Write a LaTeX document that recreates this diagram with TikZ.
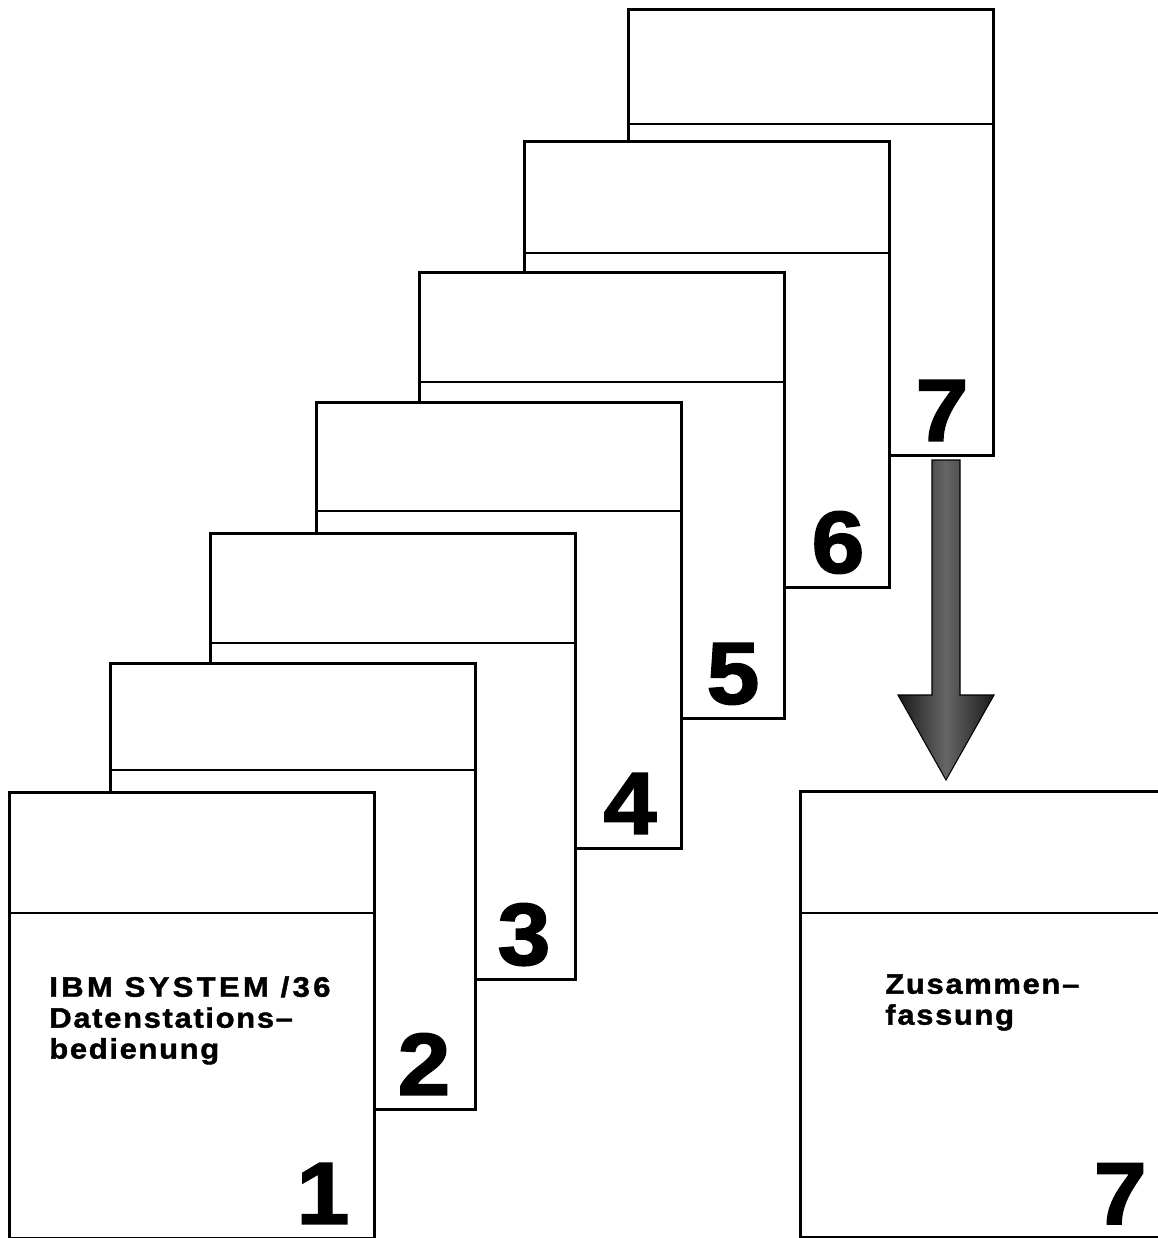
\documentclass[tikz,border=0pt]{standalone}
\usepackage{fontspec}
\setmainfont{Liberation Sans}
\newfontfamily\cardfont{Liberation Sans}[UprightFont={* Bold},
  FakeStretch=1.1,LetterSpace=6,FakeBold=1.5]
\newfontfamily\numfont{Liberation Sans}[UprightFont={* Bold},
  FakeStretch=1.08,FakeBold=2]
\usetikzlibrary{calc}

\tikzset{
  card/.style={draw=black,fill=white,line width=1.6pt,inner sep=0pt,
    anchor=north west,minimum width=7.3cm,minimum height=8.92cm},
  divider/.style={line width=1.6pt},
  cardno/.style={anchor=base east,inner sep=0pt,
    font=\numfont\fontsize{50}{50}\selectfont},
  cardtext/.style={anchor=north west,inner sep=0pt,align=left,
    font=\cardfont\fontsize{16}{17.6}\selectfont},
  fatarrow/.style={draw=black,line width=0.6pt,left color=black!90,
    right color=black!90,middle color=black!60}
}

\begin{document}
\begin{tikzpicture}[x=0.02cm,y=-0.02cm]
\useasboundingbox (0,0) rectangle (1158,1238);

% stack of cards, back to front
\foreach \n/\x/\y/\d in {7/627/8/116,6/523/140/113,5/418/271/111,
    4/315/401/110,3/209/532/111,2/109/662/108,1/8/791/122}{
  \node[card] (c\n) at (\x,\y) {};
  \draw[divider] ($(c\n.north west)+(0,\d)$) -- ($(c\n.north east)+(0,\d)$);
  \node[cardno] (n\n) at ($(c\n.south east)+(-26,-16)$) {\n};
}

\node[cardtext] (t1) at (49,976)
    {{\addfontfeature{LetterSpace=12}IBM SYSTEM /36}\\
     Datenstations\textendash\\bedienung};

% summary card
\node[card] (sum) at (799,790) {};
\draw[divider] ($(sum.north west)+(0,123)$) -- ($(sum.north east)+(0,123)$);
\node[cardtext] (t8) at (885,974) {Zusammen\textendash\\fassung};
\node[cardno] (n8) at (1147,1224) {7};

% arrow from card 7 to the summary
\coordinate (top) at (946,460);
\coordinate (tip) at (946,780);
\path[fatarrow] ($(top)+(-14,0)$) -- ($(top)+(14,0)$) -- ($(tip)+(14,-85)$)
    -- ($(tip)+(48,-85)$) -- (tip) -- ($(tip)+(-48,-85)$)
    -- ($(tip)+(-14,-85)$) -- cycle;
\end{tikzpicture}
\end{document}
